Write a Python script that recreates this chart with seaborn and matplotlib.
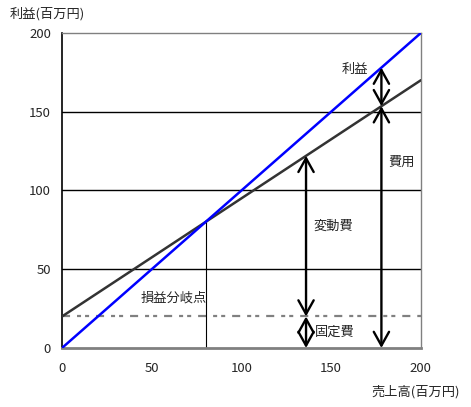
import numpy as np
import pandas as pd
import seaborn as sns
from matplotlib import pyplot as plt

# データ
sales = [0, 200]
revenue = [0, 200]
cost = [20, 170]
fixed_cost = 20
breakeven = 80
arrow_x1 = 136
arrow_x2 = 178

def cost_at(x):
    return fixed_cost + (cost[1] - cost[0]) / (sales[1] - sales[0]) * x

sns.set_style('white')
plt.rcParams['font.family'] = ['Noto Sans CJK JP', 'DejaVu Sans']
plt.rcParams['lines.scale_dashes'] = False

fig = plt.figure(figsize=(4.71, 4.07), dpi=100)
ax = fig.add_axes([0.1316, 0.145, 0.762, 0.774])

df = pd.DataFrame({'売上高': sales, '売上': revenue, '費用': cost})

for y in [50, 100, 150]:
    ax.axhline(y, color='black', lw=1, zorder=1)

# 固定費ライン (破線の長さはポイント指定)
ax.axhline(fixed_cost, color='gray', lw=1.6, dashes=(5.8, 5.0, 2.9, 2.9, 2.9, 5.0), zorder=2)
ax.plot([breakeven, breakeven], [0, breakeven], color='black', lw=0.8, zorder=2)

sns.lineplot(data=df, x='売上高', y='費用', color='#333333', lw=1.8, ax=ax, zorder=3)
sns.lineplot(data=df, x='売上高', y='売上', color='blue', lw=1.8, ax=ax, zorder=4)

arrow = dict(arrowstyle='<->,head_length=0.45,head_width=0.25', color='black', lw=1.7,
             mutation_scale=22, shrinkA=0, shrinkB=0)
ax.annotate('', xy=(arrow_x1, 0), xytext=(arrow_x1, fixed_cost), arrowprops=arrow, zorder=5)
ax.annotate('', xy=(arrow_x1, fixed_cost), xytext=(arrow_x1, cost_at(arrow_x1)), arrowprops=arrow, zorder=5)
ax.annotate('', xy=(arrow_x2, 0), xytext=(arrow_x2, cost_at(arrow_x2)), arrowprops=arrow, zorder=5)
ax.annotate('', xy=(arrow_x2, cost_at(arrow_x2)), xytext=(arrow_x2, arrow_x2), arrowprops=arrow, zorder=5)

fs = 9.5
ax.text(163, 176.5, '利益', fontsize=fs, ha='center', va='center')
ax.text(189, 118, '費用', fontsize=fs, ha='center', va='center')
ax.text(151, 77, '変動費', fontsize=fs, ha='center', va='center')
ax.text(152, 10, '固定費', fontsize=fs, ha='center', va='center')
ax.text(62, 32, '損益分岐点', fontsize=fs, ha='center', va='center')

ax.set_xlim(0, 200)
ax.set_ylim(0, 200)
ax.set_xticks([0, 50, 100, 150, 200])
ax.set_yticks([0, 50, 100, 150, 200])
ax.tick_params(axis='x', direction='in', length=3, pad=10, labelsize=fs, color='black')
ax.tick_params(axis='y', length=0, pad=8, labelsize=fs)
ax.set_xlabel('')
ax.set_ylabel('')

ax.spines['left'].set_color('black')
ax.spines['left'].set_linewidth(1.2)
ax.spines['bottom'].set_color('gray')
ax.spines['bottom'].set_linewidth(2)
ax.spines['top'].set_color('gray')
ax.spines['right'].set_color('gray')
ax.spines['top'].set_linewidth(1)
ax.spines['right'].set_linewidth(1)

fig.text(10 / 471, 1 - 14 / 407, '利益(百万円)', fontsize=fs, ha='left', va='center')
fig.text(460 / 471, 1 - 392 / 407, '売上高(百万円)', fontsize=fs, ha='right', va='center')

fig.savefig('out.png', dpi=100)
